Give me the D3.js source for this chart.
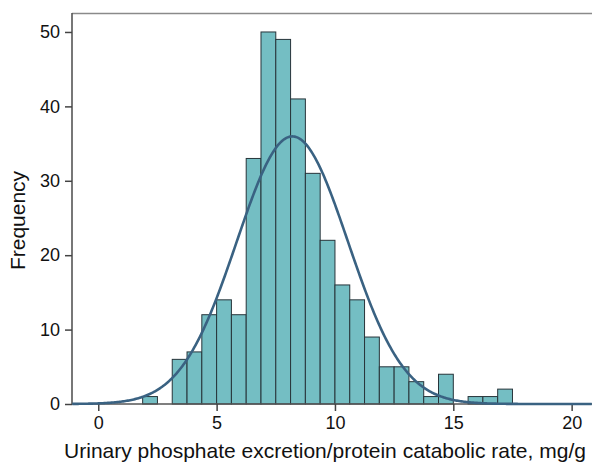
<!DOCTYPE html>
<html>
<head>
<meta charset="utf-8">
<script src="https://cdn.jsdelivr.net/npm/d3@7"></script>
<style>
body{margin:0;background:#fff;}
text{font-family:"Liberation Sans",Arial,sans-serif;fill:#111;}
</style>
</head>
<body>
<script>
////Data
var binWidth = 0.625 //Width of every histogram bin, mg/g
var binStarts = [1.875,2.5,3.125,3.75,4.375,5,5.625,6.25,6.875,7.5,8.125,8.75,9.375,10,10.625,11.25,11.875,12.5,13.125,13.75,14.375,15,15.625,16.25,16.875] //Left edge of each bin
var binCounts = [1,0,6,7,12,14,12,33,50,49,41,31,22,16,14,9,5,5,3,1,4,0,1,1,2] //Frequency in each bin
var fitMean = 8.2 //Mean of the fitted normal curve
var fitSD = 2.35 //SD of the fitted normal curve
var xTicks = [0,5,10,15,20]
var yTicks = [0,10,20,30,40,50]

////Sizes
var W = 593, H = 463
var mLeft = 72, mRight = 592, mTop = 13, mBottom = 404

var svg = d3.select("body").append("svg").attr("width",W).attr("height",H)

var x = d3.scaleLinear().domain([-1.11,20.86]).range([mLeft,mRight])
var y = d3.scaleLinear().domain([0,52.55]).range([mBottom,mTop])

///Bars
var bins = binStarts.map(function(s,i){return {x0:s,x1:s+binWidth,n:binCounts[i]}})
svg.append("g").selectAll("rect")
    .data(bins.filter(function(d){return d.n>0}))
    .enter().append("rect")
    .attr("x",function(d){return x(d.x0)})
    .attr("y",function(d){return y(d.n)})
    .attr("width",function(d){return x(d.x1)-x(d.x0)})
    .attr("height",function(d){return y(0)-y(d.n)})
    .attr("fill","#74bec3")
    .attr("stroke","#27343a")
    .attr("stroke-width",1)

///Fitted normal curve, scaled to counts
var total = d3.sum(binCounts)
var curveX = d3.range(-1.1,20.86,0.05)
var curve = d3.line()
    .x(function(d){return x(d)})
    .y(function(d){
        var z = (d-fitMean)/fitSD
        return y(total*binWidth/(fitSD*Math.sqrt(2*Math.PI))*Math.exp(-z*z/2))
    })

///Frame top line
svg.append("line").attr("x1",mLeft).attr("x2",mRight).attr("y1",mTop+0.5).attr("y2",mTop+0.5)
    .attr("stroke","#8a8a8a").attr("stroke-width",1.3)

///Axes
var xAxis = svg.append("g").attr("transform","translate(0,"+mBottom+")")
    .call(d3.axisBottom(x).tickValues(xTicks).tickSize(7).tickPadding(5))
var yAxis = svg.append("g").attr("transform","translate("+mLeft+",0)")
    .call(d3.axisLeft(y).tickValues(yTicks).tickSize(7).tickPadding(5))
;[xAxis,yAxis].forEach(function(a){
    a.select(".domain").attr("stroke","#555").attr("stroke-width",1.6)
    a.selectAll(".tick line").attr("stroke","#444").attr("stroke-width",1.5)
    a.selectAll(".tick text").style("font-size","18px").attr("fill","#111")
})
yAxis.select(".domain").attr("d","M0,"+mBottom+"V"+mTop)
xAxis.select(".domain").attr("d","M"+mLeft+",0H"+mRight)

svg.append("path").datum(curveX).attr("d",curve)
    .attr("fill","none").attr("stroke","#3a6282").attr("stroke-width",2.6)

///Axis titles
svg.append("text").attr("x",325).attr("y",458).attr("text-anchor","middle")
    .style("font-size","21px").text("Urinary phosphate excretion/protein catabolic rate, mg/g")
svg.append("text").attr("transform","translate(25,"+((mTop+mBottom)/2+12)+") rotate(-90)")
    .attr("text-anchor","middle").style("font-size","21px").text("Frequency")
</script>
</body>
</html>
